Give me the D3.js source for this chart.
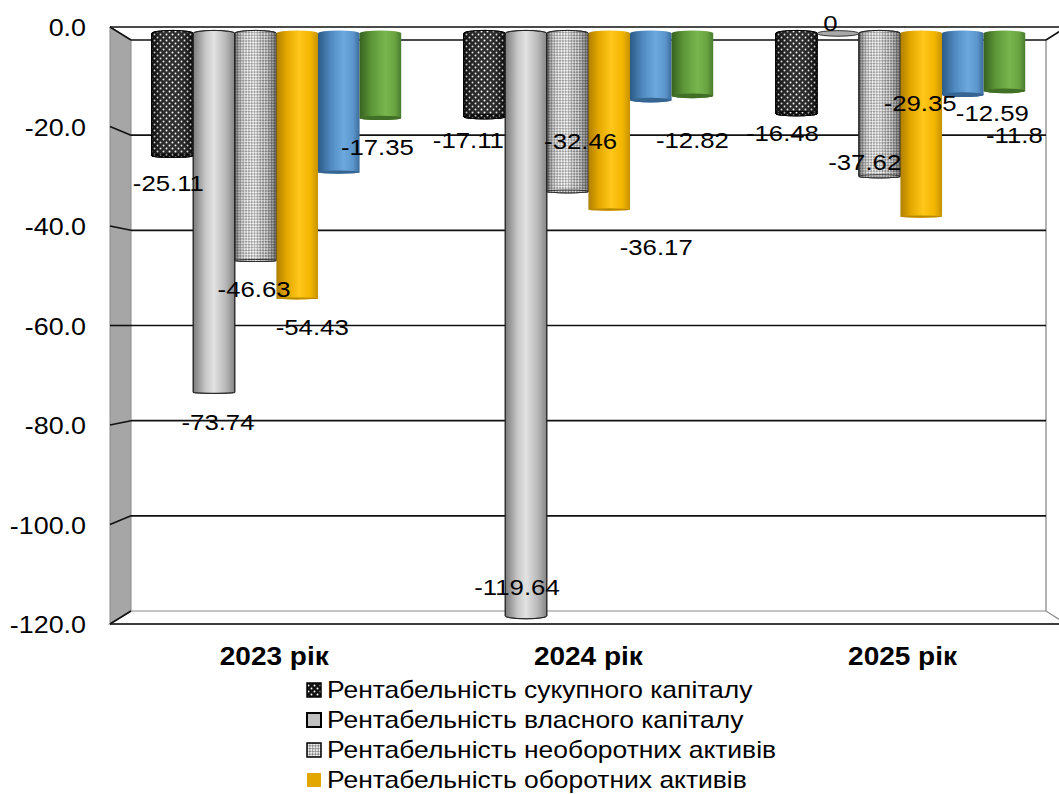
<!DOCTYPE html>
<html><head><meta charset="utf-8">
<script src="https://cdn.jsdelivr.net/npm/d3@7"></script>
<style>
html,body{margin:0;padding:0;background:#fff;}
svg{display:block;font-family:"Liberation Sans",Arial,sans-serif;}
</style></head>
<body>
<svg id="chart" width="1059" height="794"></svg>
<script>
// ---------- DATA ----------
const categories = ["2023 рік", "2024 рік", "2025 рік"];
const seriesNames = [
  "Рентабельність сукупного капіталу",
  "Рентабельність власного капіталу",
  "Рентабельність необоротних активів",
  "Рентабельність оборотних активів",
  null,
  null
];
const sukupnyi   = [-25.11, -17.11, -16.48];
const vlasnyi    = [-73.74, -119.64, 0];
const neoborotni = [-46.63, -32.46, -29.35];
const oborotni   = [-54.43, -36.17, -37.62];
const series5    = [-28.5, -13.7, -12.59];
const series6    = [-17.35, -12.82, -11.8];
const seriesValues = [sukupnyi, vlasnyi, neoborotni, oborotni, series5, series6];
const yTicks = [0, -20, -40, -60, -80, -100, -120];

// ---------- LAYOUT (label nudges relative to bar end; null = no label) ----------
const labelNudge = [
  [[-4, 27], [-16, 23], [-14, 19]],
  [[4, 29], [-9, -29], [-7.5, -11]],
  [[-1.5, 28], [13, -51], [40.5, -74]],
  [[15, 28], [47, 37], [-56.5, -54.5]],
  [null, null, [29.5, 18]],
  [[-3, 29], [0, 44], [10, 44]]
];

const svg = d3.select("#chart");
const defs = svg.append("defs");
const SX = 1.12; // horizontal text stretch

// perspective model
const V = {x: 592.5, y: 325.7};
const sMid = 1.023, sFront = 1.0455, kEll = 0.0103;
const proj = (xb, yb, s) => [V.x + (xb - V.x) * s, V.y + (yb - V.y) * s];

const yBack = d3.scaleLinear().domain([0, -120]).range([40, 611]);
const yFront = d3.scaleLinear().domain([0, -120]).range([27, 624]);
const xCat = d3.scaleBand().domain(categories).range([131, 1046]);
const xSer = d3.scaleBand().domain(d3.range(seriesValues.length)).range([0, xCat.bandwidth()])
  .paddingInner(0).paddingOuter(0.75);

// ---------- gradients & patterns ----------
function hgrad(id, stops) {
  const g = defs.append("linearGradient").attr("id", id).attr("x1", 0).attr("x2", 1).attr("y1", 0).attr("y2", 0);
  stops.forEach(([o, c, a]) => g.append("stop").attr("offset", o).attr("stop-color", c).attr("stop-opacity", a == null ? 1 : a));
}
hgrad("gGrey", [[0, "#7a7a7a"], [0.3, "#c8c8c8"], [0.5, "#e2e2e2"], [0.78, "#b8b8b8"], [1, "#858585"]]);
hgrad("gYellow", [[0, "#b07f00"], [0.25, "#e4a800"], [0.55, "#ffc71a"], [0.82, "#f2b500"], [1, "#c79200"]]);
hgrad("gBlue", [[0, "#2c5a86"], [0.3, "#4f89c0"], [0.62, "#6ca8de"], [0.85, "#5b95cb"], [1, "#3b6c9b"]]);
hgrad("gGreen", [[0, "#38621f"], [0.3, "#5d983a"], [0.62, "#79b54d"], [0.85, "#69a443"], [1, "#497b2c"]]);
hgrad("gShade", [[0, "#000", 0.5], [0.3, "#fff", 0.1], [0.5, "#fff", 0.22], [0.75, "#000", 0.08], [1, "#000", 0.45]]);
hgrad("gShadeDark", [[0, "#000", 0.3], [0.5, "#fff", 0.12], [1, "#000", 0.3]]);

const pDots = defs.append("pattern").attr("id", "pDots").attr("patternUnits", "userSpaceOnUse")
  .attr("width", 6).attr("height", 6);
pDots.append("rect").attr("width", 6).attr("height", 6).attr("fill", "#111");
pDots.append("circle").attr("cx", 1.5).attr("cy", 1.5).attr("r", 0.95).attr("fill", "#fff");
pDots.append("circle").attr("cx", 4.5).attr("cy", 4.5).attr("r", 0.95).attr("fill", "#fff");

const pCheck = defs.append("pattern").attr("id", "pCheck").attr("patternUnits", "userSpaceOnUse")
  .attr("width", 4).attr("height", 4).attr("patternTransform", "rotate(45)");
pCheck.append("rect").attr("width", 4).attr("height", 4).attr("fill", "#eeeeee");
pCheck.append("rect").attr("width", 2).attr("height", 2).attr("fill", "#8e8e8e");
pCheck.append("rect").attr("x", 2).attr("y", 2).attr("width", 2).attr("height", 2).attr("fill", "#8e8e8e");

const seriesStyle = [
  {fill: "url(#pDots)", overlay: "url(#gShadeDark)", stroke: "#000", cap: "url(#pDots)"},
  {fill: "url(#gGrey)", overlay: null, stroke: "#222", cap: "#a9a9a9"},
  {fill: "url(#pCheck)", overlay: "url(#gShade)", stroke: "#222", cap: "url(#pCheck)"},
  {fill: "url(#gYellow)", overlay: null, stroke: null, cap: "#d49d00"},
  {fill: "url(#gBlue)", overlay: null, stroke: null, cap: "#3f74a6"},
  {fill: "url(#gGreen)", overlay: null, stroke: null, cap: "#4a7f2c"}
];

// ---------- walls ----------
const bL = xCat.range()[0], bR = xCat.range()[1];
const [fLx] = proj(bL, 0, sFront), [fRx] = proj(bR, 0, sFront);
const yb0 = yBack(0), ybMin = yBack(-120), yf0 = yFront(0), yfMin = yFront(-120);

// side wall
svg.append("path")
  .attr("d", `M${fLx},${yf0} L${bL},${yb0} L${bL},${ybMin} L${fLx},${yfMin} Z`)
  .attr("fill", "#a6a6a6").attr("stroke", "#8a8a8a").attr("stroke-width", 1);
// floor (bottom plane)
svg.append("path")
  .attr("d", `M${fLx},${yfMin} L${bL},${ybMin} L${bR},${ybMin} L${fRx},${yfMin} Z`)
  .attr("fill", "#fff").attr("stroke", "#8a8a8a").attr("stroke-width", 1.2);
svg.append("line").attr("x1", fLx).attr("x2", fRx).attr("y1", yfMin).attr("y2", yfMin)
  .attr("stroke", "#111").attr("stroke-width", 1.6);
// back wall right edge
svg.append("line").attr("x1", bR).attr("x2", bR).attr("y1", yb0).attr("y2", ybMin)
  .attr("stroke", "#8a8a8a").attr("stroke-width", 1.3);

// gridlines (back wall + side wall segment)
const grid = svg.append("g");
yTicks.forEach(t => {
  if (t === -120) return;
  grid.append("line").attr("x1", bL).attr("x2", bR).attr("y1", yBack(t)).attr("y2", yBack(t))
    .attr("stroke", "#111").attr("stroke-width", 1.6);
  grid.append("line").attr("x1", fLx).attr("x2", bL).attr("y1", yFront(t)).attr("y2", yBack(t))
    .attr("stroke", "#111").attr("stroke-width", 1.6);
});
// top plane (value 0) edges
svg.append("path").attr("d", `M${fLx},${yf0} L${fRx},${yf0} M${bR},${yb0} L${fRx},${yf0}`)
  .attr("fill", "none").attr("stroke", "#111").attr("stroke-width", 1.6);
svg.append("line").attr("x1", fLx).attr("x2", bL).attr("y1", yfMin).attr("y2", ybMin)
  .attr("stroke", "#111").attr("stroke-width", 1.6);

// ---------- y axis ----------
const yAxis = d3.axisLeft(yFront).tickValues(yTicks).tickSize(0).tickPadding(0)
  .tickFormat(d => d.toFixed(1));
const axG = svg.append("g").attr("transform", "translate(86,0)").call(yAxis);
axG.select(".domain").remove();
axG.selectAll("text").attr("x", 0).attr("dy", "0.36em")
  .attr("transform", `scale(${SX},1)`)
  .style("font-size", "24px").style("font-family", "'Liberation Sans',Arial,sans-serif")
  .attr("fill", "#000").attr("text-anchor", "end");

// ---------- cylinders ----------
const bars = [];
seriesValues.forEach((vals, si) => {
  vals.forEach((v, ci) => {
    const xb0 = xCat(categories[ci]) + xSer(si), xb1 = xb0 + xSer.bandwidth();
    const [X0, Yt] = proj(xb0, yBack(0), sMid);
    const [X1, Ye] = proj(xb1, yBack(v), sMid);
    bars.push({si, ci, v, X0, X1, Yt, Ye});
  });
});

const barG = svg.append("g");
bars.forEach(b => {
  const st = seriesStyle[b.si];
  const rx = (b.X1 - b.X0) / 2, cx = (b.X0 + b.X1) / 2;
  const rt = Math.max(1, Math.abs(b.Yt - V.y) * kEll);
  const re = Math.max(1, Math.abs(b.Ye - V.y) * kEll);
  if (b.v !== 0) {
    const d = `M${b.X0},${b.Yt} A${rx},${rt} 0 0 1 ${b.X1},${b.Yt} L${b.X1},${b.Ye} A${rx},${re} 0 0 1 ${b.X0},${b.Ye} Z`;
    barG.append("path").attr("d", d).attr("fill", st.fill)
      .attr("stroke", st.stroke || "none").attr("stroke-width", 0.9);
    if (st.overlay) barG.append("path").attr("d", d).attr("fill", st.overlay).attr("stroke", "none");
    if (st.stroke) barG.append("path").attr("d", d).attr("fill", "none").attr("stroke", st.stroke).attr("stroke-width", 0.9);
  }
  if (b.Ye < V.y) {
    barG.append("ellipse").attr("cx", cx).attr("cy", b.Ye).attr("rx", rx).attr("ry", b.v === 0 ? 2.8 : re)
      .attr("fill", st.cap).attr("stroke", st.stroke || "none").attr("stroke-width", 0.9);
    if (!st.stroke) {
      barG.append("ellipse").attr("cx", cx).attr("cy", b.Ye).attr("rx", rx).attr("ry", re)
        .attr("fill", "#000").attr("opacity", 0.12);
    }
  }
});

// ---------- data labels ----------
const lblG = svg.append("g");
bars.forEach(b => {
  const n = labelNudge[b.si][b.ci];
  if (!n) return;
  const cx = (b.X0 + b.X1) / 2;
  lblG.append("text")
    .attr("transform", `translate(${cx + n[0]},${b.Ye + n[1]}) scale(${SX},1)`)
    .attr("text-anchor", "middle").attr("dy", "0.36em")
    .style("font-size", "23px").attr("fill", "#000")
    .text(String(b.v));
});

// ---------- category labels ----------
svg.append("g").selectAll("text").data(categories).join("text")
  .attr("transform", d => {
    const [x] = proj(xCat(d) + xCat.bandwidth() / 2, 0, 1.03);
    return `translate(${x},${656}) scale(${SX},1)`;
  })
  .attr("text-anchor", "middle").attr("dy", "0.36em")
  .style("font-size", "25px").style("font-weight", "bold").attr("fill", "#000")
  .text(d => d);

// ---------- legend ----------
const legendItems = seriesNames.map((n, i) => ({n, i})).filter(d => d.n);
const lg = svg.append("g").attr("transform", "translate(307,690)");
const li = lg.selectAll("g").data(legendItems).join("g")
  .attr("transform", (d, k) => `translate(0,${k * 30})`);
li.append("rect").attr("x", 0).attr("y", -7).attr("width", 14).attr("height", 14)
  .attr("fill", d => d.i === 0 ? "url(#pDots)" : d.i === 1 ? "#c0c0c0" : d.i === 2 ? "url(#pCheck)" : "#e3a600")
  .attr("stroke", d => d.i < 3 ? "#000" : "none").attr("stroke-width", d => d.i === 1 ? 2 : 1.5);
li.append("text").attr("transform", `translate(20,0) scale(1.15,1)`).attr("dy", "0.36em")
  .style("font-size", "23px").attr("fill", "#000").text(d => d.n);
</script>
</body></html>
